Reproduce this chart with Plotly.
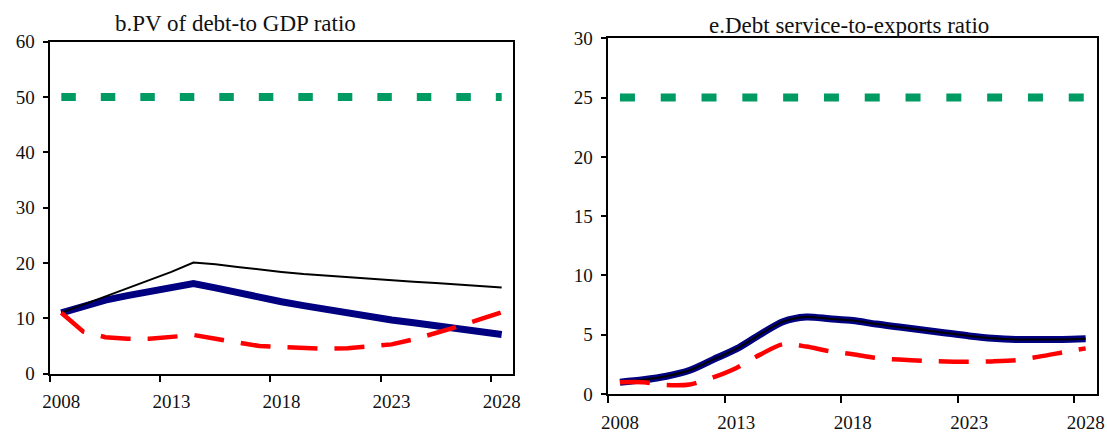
import plotly.graph_objects as go

years = [2008, 2009, 2010, 2011, 2012, 2013, 2014, 2015, 2016, 2017, 2018,
         2019, 2020, 2021, 2022, 2023, 2024, 2025, 2026, 2027, 2028]
tick_years = [2008, 2013, 2018, 2023, 2028]
tick_labels = ["2008", "2013", "2018", "2023", "2028"]
tick_marks = [2007.5, 2012.5, 2017.5, 2022.5, 2027.5]

# Panel b: PV of debt-to-GDP ratio
b_baseline = [11.0, 12.3, 13.3, 14.1, 14.8, 15.5, 16.3, 15.5, 14.6, 13.8, 13.0,
              12.3, 11.6, 11.0, 10.3, 9.7, 9.2, 8.7, 8.2, 7.7, 7.1]
b_historical = [11.0, 12.5, 14.0, 15.5, 17.0, 18.4, 20.1, 19.8, 19.3, 18.8, 18.4,
                18.0, 17.7, 17.4, 17.1, 16.8, 16.6, 16.4, 16.1, 15.9, 15.6]
b_shock = [11.0, 7.6, 6.6, 6.3, 6.3, 6.7, 7.0, 6.3, 5.6, 5.0, 4.8,
           4.6, 4.5, 4.6, 4.9, 5.3, 6.2, 7.3, 8.5, 9.8, 11.1]
b_threshold = [50, 50, 50, 50, 50, 50, 50, 50, 50, 50, 50,
               50, 50, 50, 50, 50, 50, 50, 50, 50, 50]

# Panel e: Debt service-to-exports ratio
e_baseline = [1.0, 1.2, 1.5, 2.0, 2.9, 3.8, 5.0, 6.1, 6.5, 6.35, 6.2,
              5.9, 5.65, 5.4, 5.15, 4.9, 4.7, 4.6, 4.6, 4.6, 4.65]
e_historical = [1.0, 1.2, 1.5, 2.0, 2.9, 3.8, 5.0, 6.1, 6.5, 6.35, 6.2,
                5.9, 5.65, 5.4, 5.15, 4.9, 4.7, 4.6, 4.6, 4.6, 4.65]
e_shock = [1.0, 1.0, 0.75, 0.8, 1.4, 2.2, 3.3, 4.2, 4.0, 3.6, 3.35,
           3.05, 2.9, 2.8, 2.75, 2.72, 2.75, 2.85, 3.15, 3.5, 3.85]
e_threshold = [25, 25, 25, 25, 25, 25, 25, 25, 25, 25, 25,
               25, 25, 25, 25, 25, 25, 25, 25, 25, 25]

FONT = "Liberation Serif, Times New Roman, serif"
NAVY = "#000080"
RED = "#FF0000"
GREEN = "#009A63"

fig = go.Figure()


def add_panel(xa, ya, base, hist, shock, thr, shape, green_dash):
    fig.add_trace(go.Scatter(x=years, y=base, mode="lines", xaxis=xa, yaxis=ya,
                             line=dict(color=NAVY, width=7, shape=shape, smoothing=0.8)))
    fig.add_trace(go.Scatter(x=years, y=hist, mode="lines", xaxis=xa, yaxis=ya,
                             line=dict(color="#000000", width=2, shape=shape, smoothing=0.8)))
    fig.add_trace(go.Scatter(x=years, y=shock, mode="lines", xaxis=xa, yaxis=ya,
                             line=dict(color=RED, width=4.5, dash="30px,17px",
                                       shape=shape, smoothing=0.8)))
    fig.add_trace(go.Scatter(x=years, y=thr, mode="lines", xaxis=xa, yaxis=ya,
                             line=dict(color=GREEN, width=8, dash=green_dash)))


add_panel("x", "y", b_baseline, b_historical, b_shock, b_threshold, "linear", "14.5px,25px")
add_panel("x2", "y2", e_baseline, e_historical, e_shock, e_threshold, "spline", "15px,25.8px")

W, H = 1107, 434

xcommon = dict(range=[2007.5, 2028.5], tickmode="array", tickvals=tick_years,
               ticktext=tick_labels, ticks="", showline=True, mirror=True,
               linecolor="#000000", linewidth=1.5, showgrid=False, zeroline=False,
               automargin=False, ticklabelstandoff=10,
               tickfont=dict(family=FONT, size=19, color="#111111"),
               minor=dict(tickmode="array", tickvals=tick_marks, ticks="outside",
                          ticklen=7, tickcolor="#000000", tickwidth=1.5, showgrid=False),
               fixedrange=True)
ycommon = dict(showline=True, mirror=True, linecolor="#000000", linewidth=1.5,
               ticks="outside", ticklen=6, tickcolor="#000000", tickwidth=1.5,
               showgrid=False, zeroline=False, automargin=False, ticklabelstandoff=4,
               tickfont=dict(family=FONT, size=19, color="#111111"), fixedrange=True)

fig.update_layout(
    width=W, height=H,
    margin=dict(l=0, r=0, t=0, b=0, autoexpand=False),
    paper_bgcolor="white", plot_bgcolor="white",
    showlegend=False,
    xaxis=dict(domain=[50.3 / W, 512.7 / W], anchor="y", **xcommon),
    yaxis=dict(domain=[(H - 373.7) / H, (H - 41.7) / H], anchor="x",
               range=[0, 60], dtick=10, tick0=0, **ycommon),
    xaxis2=dict(domain=[608.3 / W, 1097.3 / W], anchor="y2", **xcommon),
    yaxis2=dict(domain=[(H - 394) / H, (H - 38.3) / H], anchor="x2",
                range=[0, 30], dtick=5, tick0=0, **ycommon),
    annotations=[
        dict(text="b.PV of debt-to GDP ratio", xref="paper", yref="paper",
             x=235 / W, y=(H - 24) / H, xanchor="center", yanchor="middle",
             showarrow=False, font=dict(family=FONT, size=23, color="#111111")),
        dict(text="e.Debt service-to-exports ratio", xref="paper", yref="paper",
             x=849 / W, y=(H - 25) / H, xanchor="center", yanchor="middle",
             showarrow=False, font=dict(family=FONT, size=23, color="#111111")),
    ],
)

fig.write_html("out.html")
